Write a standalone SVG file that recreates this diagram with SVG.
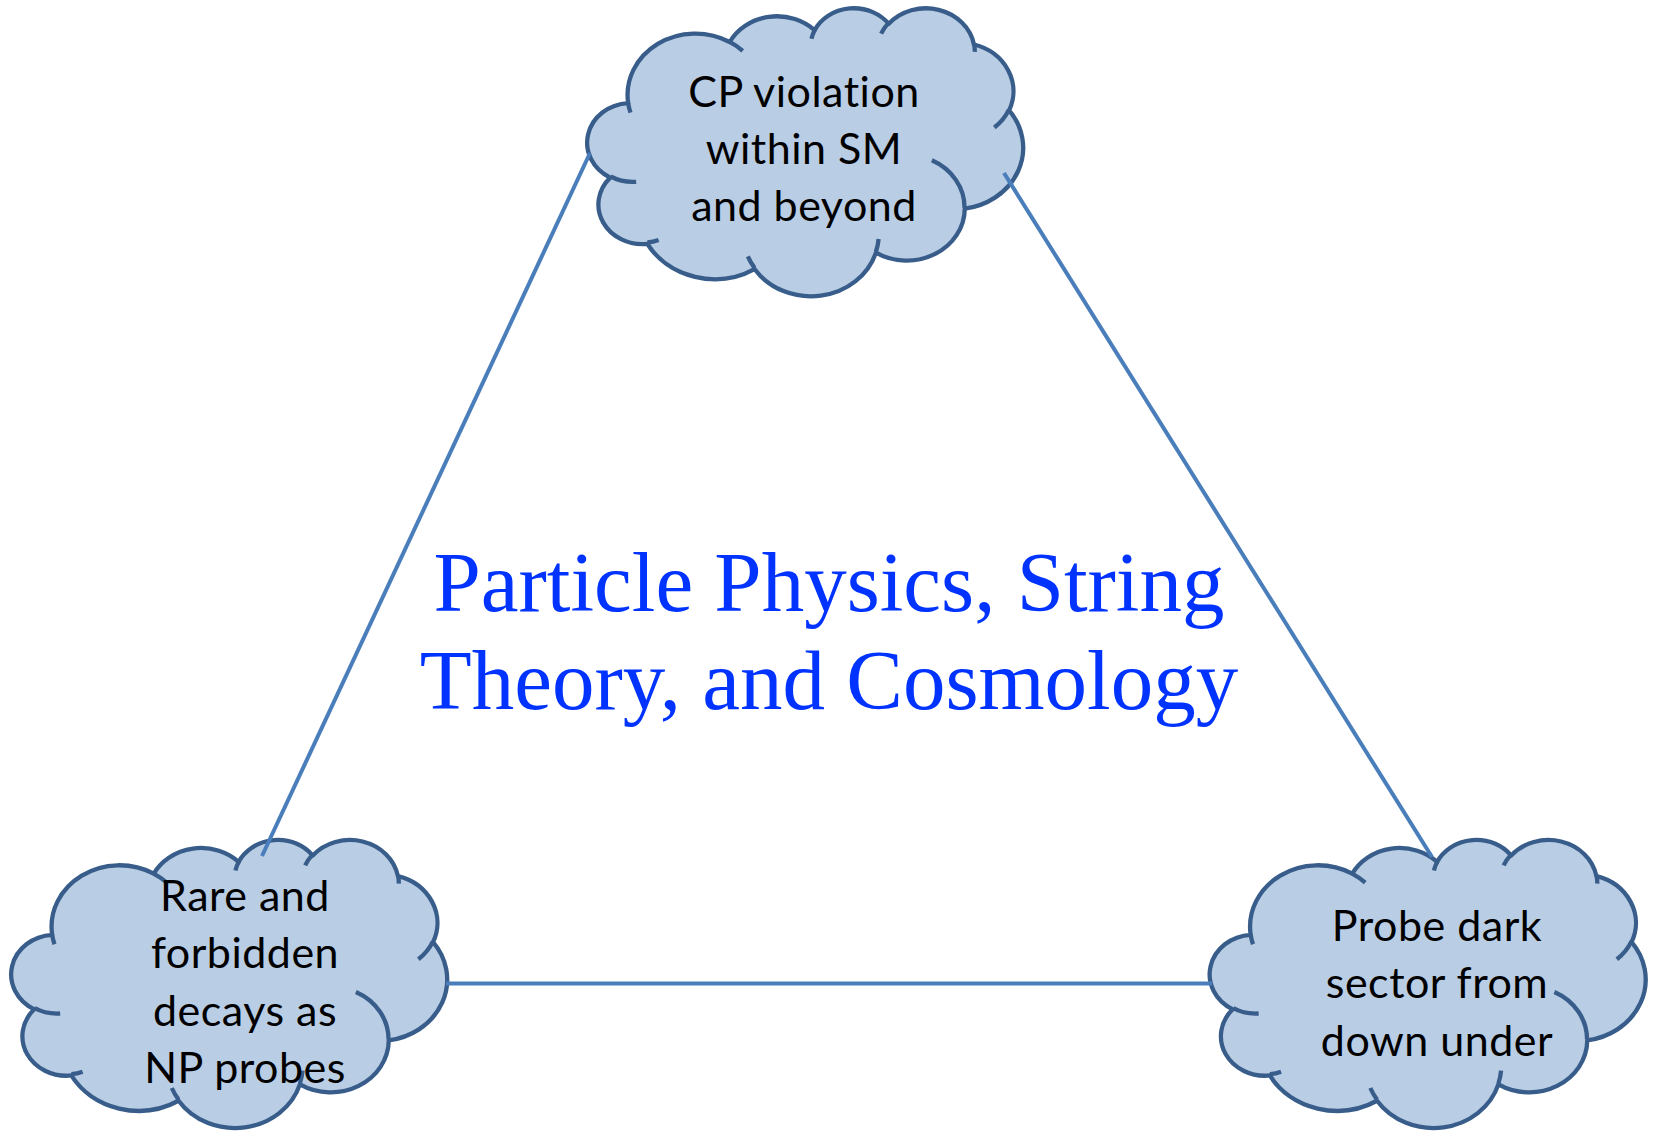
<svg xmlns="http://www.w3.org/2000/svg" xmlns:xlink="http://www.w3.org/1999/xlink" width="1656" height="1131" viewBox="0 0 1656 1131">
<style>
.cloud{fill:#b9cde5;stroke:#385d8a;stroke-width:4.3;vector-effect:non-scaling-stroke;stroke-linejoin:round}
.spur{fill:none;stroke:#385d8a;stroke-width:4.3;vector-effect:non-scaling-stroke;stroke-linecap:butt}
.lbl{font-family:Lato,"Open Sans","DejaVu Sans",sans-serif;font-size:43px;letter-spacing:0.5px;font-variant-ligatures:none;fill:#000;text-anchor:middle}
.title{font-family:"Liberation Serif","Times New Roman",serif;font-size:85px;fill:#0033ff;text-anchor:middle}
.conn{stroke:#4a7ebb;stroke-width:4;fill:none}
</style>
<defs>
<path id="cloudOuter" class="cloud" d="M3900,14370 A6753,9190 0 0 1 14005,5202 A5333,7267 0 0 1 22456,3432 A4365,5945 0 0 1 29833,2481 A4857,6595 0 0 1 38318,5576 A5333,7273 0 0 1 41818,15460 A6775,9220 0 0 1 37404,30203 A5785,7867 0 0 1 28556,36813 A6752,9215 0 0 1 16480,39264 A7720,10543 0 0 1 5804,35470 A4360,5918 0 0 1 2113,25548 A4345,5945 0 0 1 3900,14370 Z"/>
<path id="cloudSpurs" class="spur" d="M4693,26177 A4345,5945 0 0 1 2160,25380 M6928,34899 A4360,5918 0 0 1 5820,35280 M16478,39090 A6752,9215 0 0 1 15810,37350 M28827,34751 A6752,9215 0 0 1 28560,36660 M34129,22954 A5785,7867 0 0 1 37380,30090 M41798,15354 A5333,7273 0 0 1 40350,18030 M38324,5426 A4857,6595 0 0 1 38400,6690 M29078,3952 A4857,6595 0 0 1 29820,2340 M22141,4720 A4365,5945 0 0 1 22500,3330 M14000,5192 A6753,9190 0 0 1 15300,6540 M4127,15789 A6753,9190 0 0 1 3900,14370"/>
</defs>
<g id="node-cp">
<g transform="translate(589,7.3) scale(0.0100463,0.0066667)">
<use href="#cloudOuter"/><use href="#cloudSpurs"/>
</g>
<text class="lbl" x="804" y="107">CP violation</text>
<text class="lbl" x="804" y="164">within SM</text>
<text class="lbl" x="804" y="221">and beyond</text>
</g>
<g id="node-rare">
<g transform="translate(13,839) scale(0.0100463,0.0066667)">
<use href="#cloudOuter"/><use href="#cloudSpurs"/>
</g>
<text class="lbl" x="245" y="910.5">Rare and</text>
<text class="lbl" x="245" y="968">forbidden</text>
<text class="lbl" x="245" y="1025.5">decays as</text>
<text class="lbl" x="245" y="1083">NP probes</text>
</g>
<g id="node-dark">
<g transform="translate(1211.5,839) scale(0.0100463,0.0066667)">
<use href="#cloudOuter"/><use href="#cloudSpurs"/>
</g>
<text class="lbl" x="1437" y="940.5">Probe dark</text>
<text class="lbl" x="1437" y="998">sector from</text>
<text class="lbl" x="1437" y="1055.5">down under</text>
</g>
<g id="connectors">
<line class="conn" x1="590" y1="153" x2="262" y2="856"/>
<line class="conn" x1="1004" y1="173" x2="1432" y2="857"/>
<line class="conn" x1="446" y1="983.5" x2="1212" y2="983.5"/>
</g>
<g id="title">
<text class="title" x="829" y="611">Particle Physics, String</text>
<text class="title" x="829" y="709">Theory, and Cosmology</text>
</g>
</svg>
